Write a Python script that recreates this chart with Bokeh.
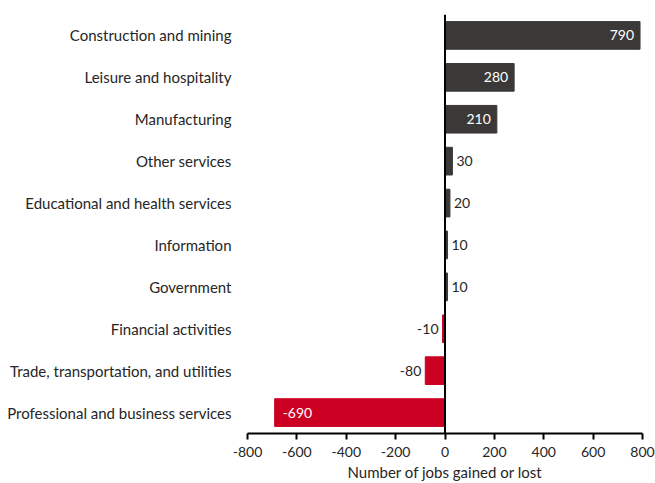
from bokeh.plotting import figure
from bokeh.models import ColumnDataSource, Range1d, FactorRange, Span, FixedTicker
from bokeh.core.properties import value
from bokeh.embed import file_html
from bokeh.resources import INLINE

categories = [
    "Construction and mining",
    "Leisure and hospitality",
    "Manufacturing",
    "Other services",
    "Educational and health services",
    "Information",
    "Government",
    "Financial activities",
    "Trade, transportation, and utilities",
    "Professional and business services",
]
jobs = [790, 280, 210, 30, 20, 10, 10, -10, -80, -690]
x_ticks = [-800, -600, -400, -200, 0, 200, 400, 600, 800]

POS = "#3b3838"
NEG = "#cc0022"
FONT = "Lato"

colors = [POS if v >= 0 else NEG for v in jobs]
inside = [abs(v) >= 200 for v in jobs]
align = []
xoff = []
tcol = []
for v, ins in zip(jobs, inside):
    if ins:
        align.append("right" if v >= 0 else "left")
        xoff.append(-6 if v >= 0 else 8)
        tcol.append("white")
    else:
        align.append("left" if v >= 0 else "right")
        xoff.append(4 if v >= 0 else -4)
        tcol.append("#262626")

src = ColumnDataSource(dict(cat=categories, val=jobs, color=colors,
                            label=[str(v) for v in jobs], align=align,
                            xoff=xoff, tcol=tcol))

p = figure(width=655, height=483, output_backend="svg", toolbar_location=None,
           y_range=FactorRange(factors=list(reversed(categories))),
           x_range=Range1d(-800, 800),
           min_border_left=247, min_border_right=13, min_border_top=14,
           min_border_bottom=49)
p.outline_line_color = None
p.xgrid.grid_line_color = None
p.ygrid.grid_line_color = None
p.y_range.range_padding = 0
p.y_range.factor_padding = 0

p.hbar(y="cat", right="val", left=0, height=0.66, color="color", source=src)

p.text(x="val", y="cat", text="label", text_align="align", x_offset="xoff",
       text_color="tcol", text_baseline="middle", text_font=value(FONT),
       text_font_size="14px", source=src)

p.add_layout(Span(location=0, dimension="height", line_color="black", line_width=2))

p.xaxis.ticker = FixedTicker(ticks=x_ticks)
p.xaxis.major_label_overrides = {t: str(t) for t in x_ticks}
p.xaxis.axis_label = "Number of jobs gained or lost"
p.xaxis.axis_label_text_font = FONT
p.xaxis.axis_label_text_font_style = "normal"
p.xaxis.axis_label_text_font_size = "15px"
p.xaxis.axis_label_text_color = "#262626"
p.xaxis.axis_label_standoff = 3
p.xaxis.major_label_text_font = FONT
p.xaxis.major_label_text_font_size = "14px"
p.xaxis.major_label_text_color = "#262626"
p.xaxis.major_label_standoff = 7
p.xaxis.axis_line_color = "black"
p.xaxis.axis_line_width = 2
p.xaxis.major_tick_line_color = "black"
p.xaxis.major_tick_line_width = 2
p.xaxis.major_tick_in = 0
p.xaxis.major_tick_out = 6
p.xaxis.minor_tick_line_color = None

p.yaxis.axis_line_color = None
p.yaxis.major_tick_line_color = None
p.yaxis.minor_tick_line_color = None
p.yaxis.major_label_text_font = FONT
p.yaxis.major_label_text_font_size = "15px"
p.yaxis.major_label_text_color = "#262626"
p.yaxis.major_label_standoff = 10

open("out.html", "w").write(file_html(p, INLINE))
